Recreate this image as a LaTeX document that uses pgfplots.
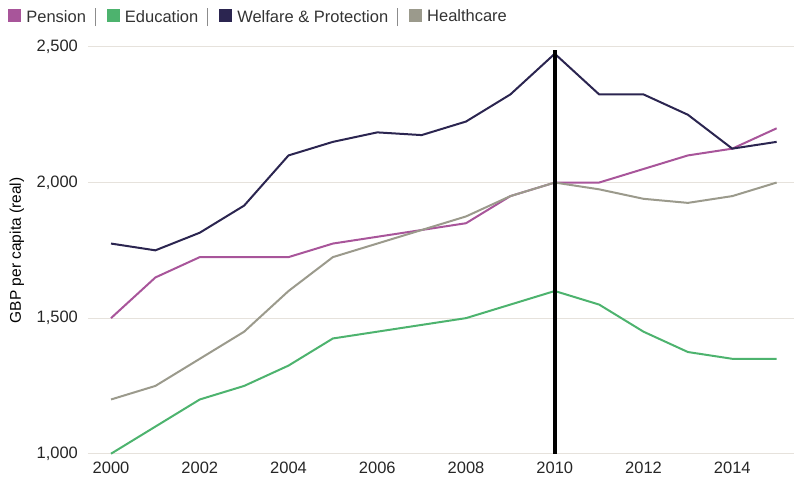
\documentclass[border=0pt]{standalone}
\usepackage{pgfplots}
\pgfplotsset{compat=1.18}
\usepackage{fontspec}
\setmainfont{Liberation Sans}
\definecolor{pension}{HTML}{A8559A}
\definecolor{educ}{HTML}{4DB36E}
\definecolor{welfare}{HTML}{2B2550}
\definecolor{health}{HTML}{9B9A8C}
\definecolor{gridc}{HTML}{E6E2DC}
\newcommand{\sep}{\hspace{9pt}\textcolor{gray!90}{\rule[-4pt]{1pt}{18pt}}\rule{9pt}{0pt}}
\newcommand{\gap}{\rule{3pt}{0pt}}
\begin{document}
\begin{tikzpicture}
\begin{axis}[
  width=706pt, height=407pt,
  scale only axis,
  xmin=1999.48, xmax=2015.38,
  ymin=1000, ymax=2500,
  axis x line*=bottom, axis y line*=left,
  x axis line style={gridc, line width=1pt},
  y axis line style={draw=none},
  xtick={2000,2002,...,2014},
  ytick={1000,1500,2000,2500},
  major tick length=0pt,
  ymajorgrids, grid style={gridc, line width=1pt},
  /pgf/number format/assume math mode=true,
  xticklabel style={/pgf/number format/1000 sep={}},
  yticklabel style={/pgf/number format/1000 sep={,}},
  tick label style={font=\fontsize{16.5}{19}\selectfont, text=black!85},
  xticklabel shift=5pt,
  yticklabel shift=6.5pt,
  ylabel={GBP per capita (real)},
  every axis y label/.style={at={(axis description cs:-0.1006,0.5)}, rotate=90, anchor=center,
    font=\fontsize{15.5}{18}\selectfont},
  clip=false,
  legend columns=4,
  legend style={at={(axis description cs:-0.113,1.101)}, anchor=north west, draw=none, fill=none,
    font=\fontsize{16.5}{19}\selectfont, text=black!80, column sep=0pt, inner sep=0pt},
  legend image code/.code={\fill[#1, draw=none] (0pt,-6.5pt) rectangle (13pt,6.5pt);},
  every axis plot/.append style={line width=2pt},
]
\addplot[pension] coordinates {(2000,1500)(2001,1650)(2002,1725)(2003,1725)(2004,1725)(2005,1775)(2006,1800)(2007,1825)(2008,1850)(2009,1950)(2010,2000)(2011,2000)(2012,2050)(2013,2100)(2014,2125)(2015,2200)};
\addlegendentry{\gap Pension\sep}
\addplot[educ] coordinates {(2000,1000)(2001,1100)(2002,1200)(2003,1250)(2004,1325)(2005,1425)(2006,1450)(2007,1475)(2008,1500)(2009,1550)(2010,1600)(2011,1550)(2012,1450)(2013,1375)(2014,1350)(2015,1350)};
\addlegendentry{\gap Education\sep}
\addplot[welfare] coordinates {(2000,1775)(2001,1750)(2002,1815)(2003,1915)(2004,2100)(2005,2150)(2006,2185)(2007,2175)(2008,2225)(2009,2325)(2010,2475)(2011,2325)(2012,2325)(2013,2250)(2014,2125)(2015,2150)};
\addlegendentry{\gap Welfare \& Protection\sep}
\addplot[health] coordinates {(2000,1200)(2001,1250)(2002,1350)(2003,1450)(2004,1600)(2005,1725)(2006,1775)(2007,1825)(2008,1875)(2009,1950)(2010,2000)(2011,1975)(2012,1940)(2013,1925)(2014,1950)(2015,2000)};
\addlegendentry{\gap Healthcare}
\addplot[black, line width=3.5pt, forget plot] coordinates {(2010,1000)(2010,2490)};
\path (rel axis cs:0,1) ++(-88pt,47pt) coordinate (bbtl);
\path (rel axis cs:1,0) ++(0pt,-27pt) coordinate (bbbr);
\end{axis}
\useasboundingbox (bbtl) rectangle (bbbr);
\end{tikzpicture}
\end{document}
